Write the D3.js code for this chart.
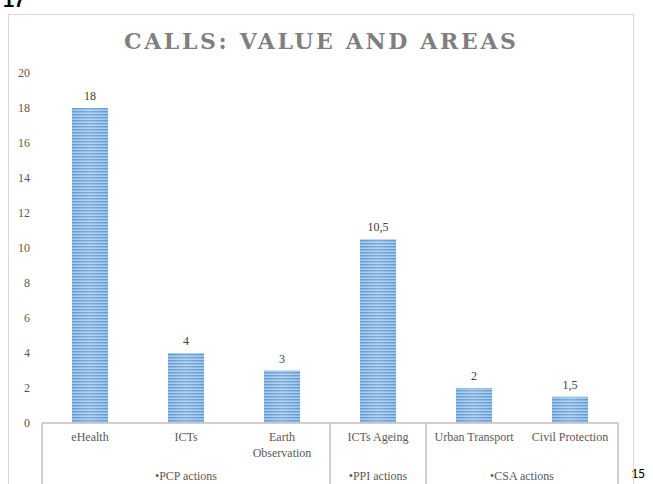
<!DOCTYPE html>
<html><head><meta charset="utf-8">
<script src="https://cdn.jsdelivr.net/npm/d3@7"></script>
<style>body{margin:0;background:#fff;}svg{display:block;}
.serif{font-family:"Liberation Serif","Times New Roman","DejaVu Serif",serif;}
.title{font-family:"DejaVu Serif","Liberation Serif",serif;}
</style>
</head><body><div id="chart"></div>
<script>
const categories = ["eHealth","ICTs","Earth Observation","ICTs Ageing","Urban Transport","Civil Protection"];
const categoryLines = [["eHealth"],["ICTs"],["Earth","Observation"],["ICTs Ageing"],["Urban Transport"],["Civil Protection"]];
const values = [18, 4, 3, 10.5, 2, 1.5];
const valueLabels = ["18","4","3","10,5","2","1,5"];
const groups = ["•PCP actions","•PPI actions","•CSA actions"];
const groupSizes = [3, 1, 2];
const yTicks = [0,2,4,6,8,10,12,14,16,18,20];
const title = "CALLS: VALUE AND AREAS";

const W = 653, H = 484;
const svg = d3.select("#chart").append("svg").attr("width", W).attr("height", H);
const defs = svg.append("defs");
const pat = defs.append("pattern").attr("id","stripes").attr("patternUnits","userSpaceOnUse")
  .attr("width", 36).attr("height", 3);
pat.append("rect").attr("width",36).attr("height",3).attr("fill","#a9c9ea");
pat.append("rect").attr("width",36).attr("height",1.4).attr("fill","#5b9bd5");
const grad = defs.append("linearGradient").attr("id","shine").attr("x1","0").attr("x2","1").attr("y1","0").attr("y2","0");
grad.append("stop").attr("offset","0").attr("stop-color","#fff").attr("stop-opacity",0);
grad.append("stop").attr("offset","0.5").attr("stop-color","#fff").attr("stop-opacity",0.18);
grad.append("stop").attr("offset","1").attr("stop-color","#fff").attr("stop-opacity",0);

// page fragments
svg.append("text").attr("x",3).attr("y",7).style("font-family","'Liberation Sans', Arial, sans-serif").attr("font-weight","bold")
  .attr("font-size",20).attr("fill","#000").text("17");
svg.append("text").attr("x",631).attr("y",478).style("font-family","Carlito, 'Liberation Sans', Arial, sans-serif")
  .attr("font-size",14).attr("fill","#000").text("15");

// frame
svg.append("rect").attr("x",8.5).attr("y",14.5).attr("width",625).attr("height",500)
  .attr("fill","none").attr("stroke","#d9d9d9").attr("stroke-width",1);

svg.append("text").attr("class","title").attr("x",320).attr("y",49).attr("text-anchor","middle")
  .attr("font-weight","bold").attr("font-size",22)
  .attr("fill","#7f7f7f").attr("textLength",392).attr("lengthAdjust","spacing").text(title);

const x0 = 42, x1 = 618, yBase = 423, yTop = 73;
const x = d3.scaleBand().domain(categories).range([x0, x1]).paddingInner(0.625).paddingOuter(0.3125);
const y = d3.scaleLinear().domain([0, 20]).range([yBase, yTop]);

// y labels
svg.append("g").attr("class","serif").selectAll("text").data(yTicks).join("text")
  .attr("x", 30).attr("y", d => y(d) + 4).attr("text-anchor","end")
  .attr("font-size",12).attr("fill","#595959")
  .text(d => d);

// bars
const bars = svg.append("g");
bars.selectAll("rect.b").data(values).join("rect").attr("class","b")
  .attr("x",(d,i)=>x(categories[i])).attr("y",d=>y(d)).attr("width",x.bandwidth())
  .attr("height",d=>yBase - y(d)).attr("fill","url(#stripes)");
bars.selectAll("rect.s").data(values).join("rect").attr("class","s")
  .attr("x",(d,i)=>x(categories[i])).attr("y",d=>y(d)).attr("width",x.bandwidth())
  .attr("height",d=>yBase - y(d)).attr("fill","url(#shine)");

svg.append("g").attr("class","serif").selectAll("text").data(values).join("text")
  .attr("x",(d,i)=>x(categories[i]) + x.bandwidth()/2).attr("y",d=>y(d)-8)
  .attr("text-anchor","middle").attr("font-size",12)
  .attr("fill","#404040").text((d,i)=>valueLabels[i]);

// category axis box
const step = x.step();
const ax = svg.append("g").attr("stroke","#bfbfbf").attr("stroke-width",1.5);
ax.append("line").attr("x1",x0).attr("x2",x1).attr("y1",yBase).attr("y2",yBase);
let cum = 0;
const bounds = [0];
groupSizes.forEach(s => { cum += s; bounds.push(cum); });
bounds.forEach(b => {
  ax.append("line").attr("x1",x0 + b*step).attr("x2",x0 + b*step).attr("y1",yBase).attr("y2",H+5);
});

const cl = svg.append("g").attr("class","serif").attr("font-size",12).attr("fill","#595959");
categoryLines.forEach((lines,i) => {
  const t = cl.append("text").attr("x", x(categories[i]) + x.bandwidth()/2).attr("text-anchor","middle");
  lines.forEach((ln,j) => t.append("tspan").attr("x", x(categories[i]) + x.bandwidth()/2).attr("y", 441 + j*16).text(ln));
});
groups.forEach((g,i) => {
  const cx = x0 + (bounds[i] + bounds[i+1]) / 2 * step;
  cl.append("text").attr("x",cx).attr("y",480).attr("text-anchor","middle").text(g);
});
</script></body></html>
